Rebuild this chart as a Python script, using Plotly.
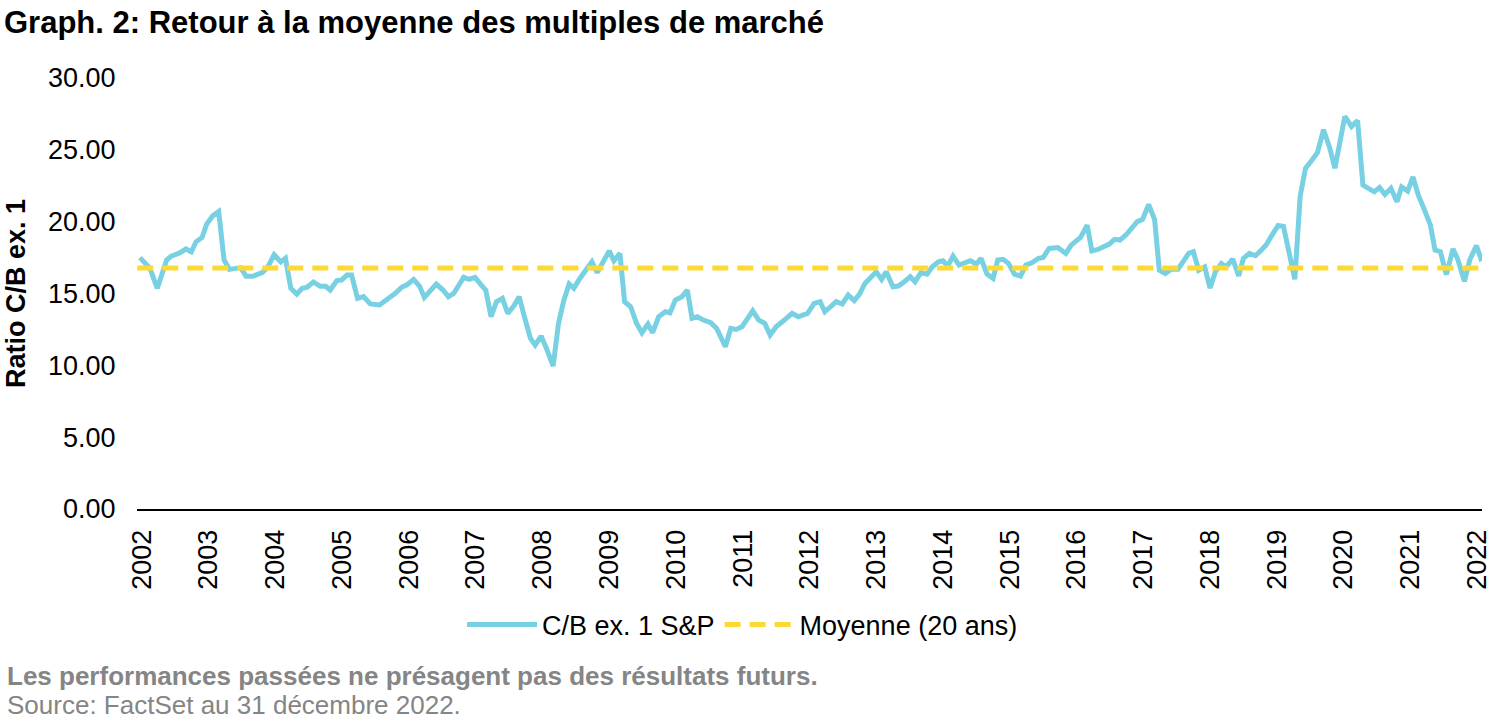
import plotly.graph_objects as go

# ---- data (decimal year, C/B ex. 1 ratio) ----
years = [
    2001.97, 2002.12, 2002.23, 2002.37, 2002.44, 2002.57, 2002.66, 2002.74, 2002.81, 2002.90, 2002.97,
    2003.06, 2003.15, 2003.23, 2003.31, 2003.40, 2003.48, 2003.56, 2003.66, 2003.80, 2003.88, 2003.98,
    2004.08, 2004.15, 2004.23, 2004.32, 2004.40, 2004.47, 2004.57, 2004.67, 2004.75, 2004.82, 2004.92, 2004.99,
    2005.07, 2005.14, 2005.23, 2005.32, 2005.42, 2005.56, 2005.66, 2005.79, 2005.89, 2005.97,
    2006.07, 2006.16, 2006.23, 2006.41, 2006.51, 2006.59, 2006.67, 2006.82, 2006.90, 2006.99,
    2007.08, 2007.15, 2007.23, 2007.31, 2007.40, 2007.48, 2007.57, 2007.65, 2007.73, 2007.82, 2007.89, 2007.98,
    2008.07, 2008.16, 2008.24, 2008.32, 2008.40, 2008.47, 2008.56, 2008.65, 2008.74, 2008.82, 2008.91,
    2009.00, 2009.07, 2009.16, 2009.23, 2009.32, 2009.41, 2009.49, 2009.58, 2009.65, 2009.74, 2009.84, 2009.91, 2009.99,
    2010.09, 2010.17, 2010.24, 2010.32, 2010.41, 2010.52, 2010.61, 2010.67, 2010.74, 2010.82, 2010.90, 2010.99,
    2011.07, 2011.15, 2011.24, 2011.33, 2011.41, 2011.50, 2011.61, 2011.74, 2011.83, 2011.97,
    2012.07, 2012.16, 2012.23, 2012.40, 2012.49, 2012.58, 2012.67, 2012.75, 2012.83, 2012.91,
    2013.00, 2013.08, 2013.15, 2013.25, 2013.33, 2013.42, 2013.51, 2013.58, 2013.67, 2013.76, 2013.84, 2013.93,
    2014.00, 2014.07, 2014.15, 2014.24, 2014.32, 2014.41, 2014.50, 2014.57, 2014.66, 2014.75, 2014.82, 2014.90, 2014.98,
    2015.07, 2015.16, 2015.24, 2015.33, 2015.43, 2015.50, 2015.59, 2015.72, 2015.84, 2015.92,
    2016.06, 2016.16, 2016.23, 2016.32, 2016.42, 2016.49, 2016.57, 2016.65, 2016.74, 2016.83, 2016.91, 2016.99,
    2017.08, 2017.17, 2017.24, 2017.33, 2017.42, 2017.52, 2017.59, 2017.68, 2017.75, 2017.83, 2017.92,
    2018.00, 2018.08, 2018.17, 2018.24, 2018.34, 2018.43, 2018.50, 2018.59, 2018.68, 2018.77, 2018.84, 2018.93,
    2019.02, 2019.10, 2019.18, 2019.27, 2019.35, 2019.43, 2019.52, 2019.61, 2019.70, 2019.79, 2019.87, 2019.95,
    2020.02, 2020.12, 2020.21, 2020.29, 2020.37, 2020.46, 2020.54, 2020.62, 2020.71, 2020.80, 2020.87, 2020.96,
    2021.04, 2021.12, 2021.21, 2021.30, 2021.37, 2021.45, 2021.54, 2021.64, 2021.71, 2021.81, 2021.89, 2021.99,
    2022.07,
]
pe_ratio = [
    17.50, 16.75, 15.36, 17.33, 17.60, 17.84, 18.10, 17.90, 18.60, 18.90, 19.83,
    20.40, 20.70, 17.33, 16.68, 16.70, 16.80, 16.20, 16.20, 16.45, 16.80, 17.70,
    17.20, 17.45, 15.36, 14.96, 15.36, 15.43, 15.80, 15.50, 15.50, 15.24, 15.90, 15.94,
    16.28, 16.28, 14.66, 14.78, 14.27, 14.20, 14.54, 15.00, 15.43, 15.60,
    15.98, 15.50, 14.73, 15.66, 15.24, 14.78, 15.00, 16.12, 15.98, 16.12,
    15.60, 15.24, 13.38, 14.43, 14.66, 13.62, 14.13, 14.78, 13.38, 11.88, 11.41, 12.04,
    11.06, 9.95, 12.92, 14.54, 15.66, 15.36, 16.05, 16.68, 17.20, 16.45, 17.28,
    17.97, 17.28, 17.79, 14.43, 14.08, 12.92, 12.27, 12.87, 12.27, 13.38, 13.73, 13.66, 14.54,
    14.78, 15.24, 13.27, 13.38, 13.15, 12.97, 12.57, 11.99, 11.29, 12.57, 12.50, 12.69,
    13.27, 13.80, 13.15, 12.92, 12.11, 12.69, 13.10, 13.62, 13.38, 13.62,
    14.31, 14.43, 13.73, 14.43, 14.27, 14.89, 14.50, 14.96, 15.70, 16.12,
    16.51, 15.98, 16.51, 15.47, 15.52, 15.82, 16.17, 15.82, 16.45, 16.35, 16.86, 17.21,
    17.28, 16.91, 17.60, 16.98, 17.14, 17.28, 17.05, 17.45, 16.35, 16.05, 17.33, 17.38, 17.10,
    16.35, 16.21, 16.98, 17.14, 17.45, 17.51, 18.14, 18.20, 17.79, 18.37,
    18.91, 19.76, 17.97, 18.07, 18.30, 18.44, 18.77, 18.72, 19.07, 19.53, 20.00, 20.16,
    21.20, 20.14, 16.62, 16.39, 16.69, 16.69, 17.16, 17.79, 17.91, 16.62, 16.85,
    15.38, 16.51, 17.09, 16.85, 17.40, 16.22, 17.44, 17.79, 17.63, 18.03, 18.38, 19.08,
    19.73, 19.67, 17.91, 15.99, 21.77, 23.72, 24.24, 24.82, 26.40, 25.18, 23.72, 25.88,
    27.33, 26.62, 27.05, 22.55, 22.37, 22.08, 22.37, 21.89, 22.32, 21.38, 22.41, 22.13,
    23.11, 21.85, 20.84, 19.78, 18.03, 17.91, 16.32, 18.10, 17.40, 15.85, 17.33, 18.33,
    17.25,
]
mean_value = [16.78]          # 20-year average drawn as a flat line
mean_span = [2001.93, 2022.07]

tick_years = list(range(2002, 2023))
tick_labels = [str(y) for y in tick_years]
y_ticks = [0, 5, 10, 15, 20, 25, 30]

series_names = ["C/B ex. 1 S&P", "Moyenne (20 ans)"]
title_text = "Graph. 2: Retour à la moyenne des multiples de marché"
y_title = "Ratio C/B ex. 1"
note_bold = "Les performances passées ne présagent pas des résultats futurs."
note_source = "Source: FactSet au 31 décembre 2022."

FONT = "Liberation Sans, Arial, sans-serif"
CYAN = "#78D0E3"
YELLOW = "#FDD935"
GREY = "#858585"

fig = go.Figure()
fig.add_trace(go.Scatter(
    x=years, y=pe_ratio, mode="lines", name=series_names[0],
    line=dict(color=CYAN, width=5), cliponaxis=True,
))
fig.add_trace(go.Scatter(
    x=mean_span, y=mean_value * len(mean_span), mode="lines", name=series_names[1],
    line=dict(color=YELLOW, width=5, dash="16px,9px"),
))

fig.update_layout(
    width=1500, height=721,
    margin=dict(l=137, r=8, t=78, b=212),
    paper_bgcolor="white", plot_bgcolor="white",
    font=dict(family=FONT, size=27, color="#000000"),
    showlegend=True,
    legend=dict(
        orientation="h", xref="container", yref="container",
        x=0.495, xanchor="center", y=1 - 625 / 721, yanchor="middle",
        font=dict(size=27, color="#000000"), itemwidth=70,
        tracegroupgap=0, traceorder="normal",
    ),
    title=dict(
        text="<b>" + title_text + "</b>", xref="container", yref="container",
        x=4 / 1500, xanchor="left", y=1 - 22 / 721, yanchor="middle",
        font=dict(size=31, color="#000000", family=FONT),
    ),
    annotations=[
        dict(text="<b>" + note_bold + "</b>", xref="paper", yref="paper",
             x=-133 / 1355, xanchor="left", y=-(676 - 509) / 431, yanchor="middle",
             showarrow=False, font=dict(size=26, color=GREY, family=FONT)),
        dict(text=note_source, xref="paper", yref="paper",
             x=-133 / 1355, xanchor="left", y=-(705 - 509) / 431, yanchor="middle",
             showarrow=False, font=dict(size=26, color=GREY, family=FONT)),
    ],
)

fig.update_xaxes(
    range=[2001.926, 2022.074], tickmode="array", tickvals=tick_years, ticktext=tick_labels,
    tickangle=-90, showgrid=False, zeroline=False,
    showline=True, linecolor="#000000", linewidth=2,
    ticks="outside", ticklen=8, tickcolor="rgba(0,0,0,0)",
    ticklabeloverflow="allow",
    tickfont=dict(size=27, color="#000000"),
)
fig.update_yaxes(
    range=[0, 30], tickmode="array", tickvals=y_ticks, tickformat=".2f",
    showgrid=False, zeroline=False, showline=False,
    ticks="outside", ticklen=15, tickcolor="rgba(0,0,0,0)",
    tickfont=dict(size=27, color="#000000"),
    title=dict(text="<b>" + y_title + "</b>", font=dict(size=27, color="#000000"), standoff=14),
)

fig.write_html("out.html")
